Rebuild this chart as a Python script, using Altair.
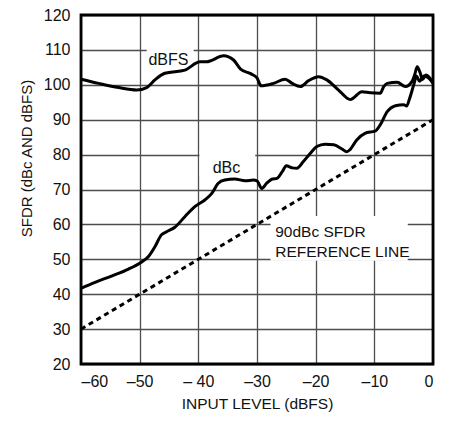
import altair as alt
import pandas as pd

# ---- data ----
dbfs_x = [-60, -57, -53.6, -50.5, -48.8, -47.4, -45.7, -42.3, -39.7, -38.6, -35.7, -34, -32.8,
          -31.1, -30, -29.3, -27.2, -25.2, -24.0, -22.6, -21.2, -19.5, -18.1, -16.1, -14.1,
          -12.1, -10.7, -9.0, -8.4, -7.8, -6.1, -4.7, -3.6, -3.1, -2.7, -2.2, -1.8, -1.2, -0.5, 0]
dbfs_y = [101.6, 100.4, 99.2, 98.5, 99.2, 101.4, 103.3, 104.2, 106.6, 106.6, 108.3, 107.1, 104.5,
          103.2, 102.0, 99.7, 100.4, 101.6, 100.4, 99.5, 101.2, 102.3, 101.4, 98.5, 95.8,
          98.0, 97.7, 97.6, 99.5, 100.4, 100.7, 99.5, 100.9, 103.0, 105.2, 103.5, 101.5, 102.8, 101.8, 100.4]

dbc_x = [-60, -57.6, -54.8, -51.9, -50, -48.5, -47.4, -46.3, -45.4, -44.0, -42.3, -40.6, -38.9,
         -37.7, -36.6, -35.5, -33.8, -32.0, -30.6, -30, -29.2, -28.3, -27.4, -26.6, -25.7, -25.0,
         -24.0, -23.2, -22.1, -20.9, -19.8, -18.4, -16.9, -15.5, -14.7, -14.1, -13.0, -11.6, -9.8,
         -9.0, -7.8, -6.4, -5.0, -4.5, -4.0, -3.3, -2.8, -2.3, -1.6, -0.8, 0]
dbc_y = [41.7, 43.4, 45.2, 47.2, 48.9, 50.8, 53.6, 57.0, 57.9, 59.2, 62.2, 65.1, 67.0,
         68.9, 71.8, 72.7, 73.0, 72.5, 72.7, 72.5, 70.3, 71.9, 73.0, 73.2, 75.1, 76.8,
         76.2, 76.1, 78.0, 80.4, 82.3, 83.0, 82.8, 81.6, 80.8, 81.5, 84.2, 86.1, 86.8,
         88.5, 92.3, 94.0, 94.3, 93.9, 96.0, 99.9, 102.5, 101.0, 102.5, 102.0, 100.6]

ref_x = [-60, 0]
ref_y = [30, 90]

x_ticks = [-60, -50, -40, -30, -20, -10, 0]
x_tick_labels = ["\u201360", "\u201350", "\u2013 40", "\u201330", "\u201320", "\u201310", "0"]
y_ticks = [20, 30, 40, 50, 60, 70, 80, 90, 100, 110, 120]

# label boxes (white backgrounds) and texts
box_x1 = [-48.8, -39.8, -27.7]
box_x2 = [-40.8, -30.3, -4.3]
box_y1 = [104.5, 73.8, 49.6]
box_y2 = [111.0, 81.0, 62.4]

center_text = ["dBFS", "dBc"]
center_text_x = [-45.1, -35.2]
center_text_y = [105.7, 74.6]

left_text = ["90dBc SFDR", "REFERENCE LINE"]
left_text_x = [-26.9, -26.9]
left_text_y = [56.5, 50.6]

FONT = "Liberation Sans"

# ---- chart ----
label_expr = "".join(
    f"datum.value == {v} ? '{l}' : " for v, l in zip(x_ticks, x_tick_labels)
) + "''"

x_scale = alt.Scale(domain=[-60, 0], nice=False, zero=False)
y_scale = alt.Scale(domain=[20, 120], nice=False, zero=False)

x_axis = alt.Axis(values=x_ticks, labelExpr=label_expr, title="INPUT LEVEL (dBFS)",
                  titleFontSize=15.5, titlePadding=7, labelPadding=9)
y_axis = alt.Axis(values=y_ticks, title="SFDR (dBc AND dBFS)", titleFontSize=15,
                  titleAngle=270, titleX=-50, titleY=143, titleAlign="center",
                  titleBaseline="alphabetic", labelPadding=11)


def X(field):
    return alt.X(field, type="quantitative", scale=x_scale, axis=x_axis)


def Y(field):
    return alt.Y(field, type="quantitative", scale=y_scale, axis=y_axis)


boxes = alt.Chart(pd.DataFrame({"x1": box_x1, "x2": box_x2, "y1": box_y1, "y2": box_y2})).mark_rect(
    fill="white"
).encode(x=X("x1"), x2="x2", y=Y("y1"), y2="y2")

dbfs_line = alt.Chart(pd.DataFrame({"x": dbfs_x, "y": dbfs_y})).mark_line(
    color="black", strokeWidth=3, interpolate="monotone"
).encode(x=X("x"), y=Y("y"))

dbc_line = alt.Chart(pd.DataFrame({"x": dbc_x, "y": dbc_y})).mark_line(
    color="black", strokeWidth=3, interpolate="monotone"
).encode(x=X("x"), y=Y("y"))

ref_line = alt.Chart(pd.DataFrame({"x": ref_x, "y": ref_y})).mark_line(
    color="black", strokeWidth=3, strokeDash=[5, 4], strokeCap="butt"
).encode(x=X("x"), y=Y("y"))

ctext = alt.Chart(pd.DataFrame({"x": center_text_x, "y": center_text_y, "t": center_text})).mark_text(
    font=FONT, fontSize=16, align="center", baseline="alphabetic", color="#111"
).encode(x=X("x"), y=Y("y"), text="t:N")

ltext = alt.Chart(pd.DataFrame({"x": left_text_x, "y": left_text_y, "t": left_text})).mark_text(
    font=FONT, fontSize=15.5, align="left", baseline="alphabetic", color="#111"
).encode(x=X("x"), y=Y("y"), text="t:N")

frame = alt.Chart(pd.DataFrame({"a": [0]})).mark_rect(
    filled=False, stroke="black", strokeWidth=2.8
).encode(x=alt.datum(-60, scale=x_scale, axis=x_axis), x2=alt.datum(0),
         y=alt.datum(20, scale=y_scale, axis=y_axis), y2=alt.datum(120))

chart = alt.layer(boxes, dbfs_line, dbc_line, ref_line, ctext, ltext, frame).properties(
    width=352, height=349,
    padding={"left": 73, "top": 7, "right": 8, "bottom": 50},
    autosize=alt.AutoSizeParams(type="none"),
).configure_view(stroke=None).configure_axis(
    labelFont=FONT, titleFont=FONT, labelFontSize=16, labelColor="#111", titleColor="#111",
    titleFontWeight="normal", ticks=False, domain=False, grid=True,
    gridColor="#4d4d4d", gridWidth=1.3, gridOpacity=1,
)

chart.save("out.html", embed_options={"renderer": "svg", "actions": False})
